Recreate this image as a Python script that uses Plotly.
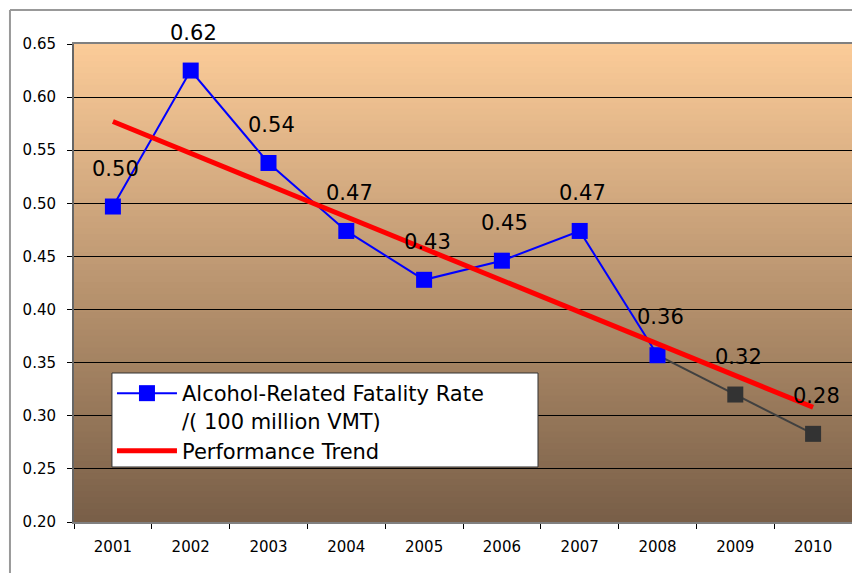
import plotly.graph_objects as go

years = ["2001", "2002", "2003", "2004", "2005", "2006", "2007", "2008", "2009", "2010"]
actual_years = years[:8]
actual_rates = [0.497, 0.625, 0.538, 0.474, 0.428, 0.446, 0.474, 0.357]
projected_years = ["2008", "2009", "2010"]
projected_rates = [0.357, 0.320, 0.283]
label_values = [0.497, 0.625, 0.538, 0.474, 0.428, 0.446, 0.474, 0.357, 0.320, 0.283]
label_texts = ["0.50", "0.62", "0.54", "0.47", "0.43", "0.45", "0.47", "0.36", "0.32", "0.28"]
trend_years = ["2001", "2010"]
trend_values = [0.577, 0.308]

FONT = "DejaVu Sans, Verdana, sans-serif"

fig = go.Figure()

fig.add_trace(go.Scatter(
    x=projected_years, y=projected_rates, mode="lines+markers",
    line=dict(color="#404040", width=2),
    marker=dict(symbol="square", size=16, color=["rgba(0,0,0,0)", "#333333", "#333333"]),
    showlegend=False, hoverinfo="skip"))

fig.add_trace(go.Scatter(
    x=actual_years, y=actual_rates, mode="lines+markers",
    name="Alcohol-Related Fatality Rate<br>/( 100 million VMT)",
    line=dict(color="#0000FF", width=2),
    marker=dict(symbol="square", size=16, color="#0000FF")))

fig.add_trace(go.Scatter(
    x=trend_years, y=trend_values, mode="lines",
    name="Performance Trend",
    line=dict(color="#FF0000", width=5)))

for i, (yv, tv) in enumerate(zip(label_values, label_texts)):
    fig.add_annotation(x=i, y=yv, xref="x", yref="y", text=tv,
                       showarrow=False, yshift=38, xshift=3,
                       font=dict(family=FONT, size=21, color="black"))

# gradient background bands
top = (251, 203, 152)
bot = (121, 95, 72)
n = 80
for i in range(n):
    t = i / (n - 1)
    c = tuple(int(round(top[k] + (bot[k] - top[k]) * t)) for k in range(3))
    fig.add_shape(type="rect", xref="x domain", yref="y domain",
                  x0=0, x1=1, y0=1 - (i + 1) / n, y1=1 - i / n + 0.002,
                  fillcolor="rgb(%d,%d,%d)" % c, line=dict(width=0), layer="below")

# outer chart frame (top and left)
fig.add_shape(type="line", xref="paper", yref="paper", x0=-0.0823, x1=1.01, y0=1.0711, y1=1.0711,
              line=dict(color="#999999", width=2))
fig.add_shape(type="line", xref="paper", yref="paper", x0=-0.0823, x1=-0.0823, y0=1.0711, y1=-0.12,
              line=dict(color="#999999", width=2))

# legend box
fig.add_shape(type="rect", xref="paper", yref="paper", x0=0.0488, x1=0.5964, y0=0.1151, y1=0.3117,
              fillcolor="white", line=dict(color="#333333", width=1), layer="above")

fig.update_layout(
    width=852, height=573,
    margin=dict(l=74, r=0, t=44, b=51),
    paper_bgcolor="white",
    plot_bgcolor="rgba(0,0,0,0)",
    font=dict(family=FONT, color="black"),
    legend=dict(
        x=0.0488, y=0.3117, xanchor="left", yanchor="top",
        bgcolor="rgba(0,0,0,0)", borderwidth=0,
        font=dict(family=FONT, size=21, color="black"),
        valign="top", itemwidth=60, tracegroupgap=0,
    ),
    xaxis=dict(
        type="category", categoryorder="array", categoryarray=years,
        range=[-0.5, 9.5],
        showgrid=False, showline=True, linecolor="#808080", linewidth=2, mirror=True,
        ticks="outside", tickson="boundaries", ticklen=5, tickcolor="#000000",
        tickfont=dict(family=FONT, size=15, color="black"),
        ticklabelstandoff=10,
    ),
    yaxis=dict(
        range=[0.20, 0.65], dtick=0.05, tick0=0.20, tickformat=".2f",
        showgrid=True, gridcolor="#000000", gridwidth=1,
        showline=True, linecolor="#666666", linewidth=2,
        ticks="outside", ticklen=5, tickcolor="#000000",
        tickfont=dict(family=FONT, size=15, color="black"),
        ticklabelstandoff=8, zeroline=False,
    ),
)

fig.write_html("out.html", config={"displayModeBar": False},
               post_script="document.body.style.margin='0';")
